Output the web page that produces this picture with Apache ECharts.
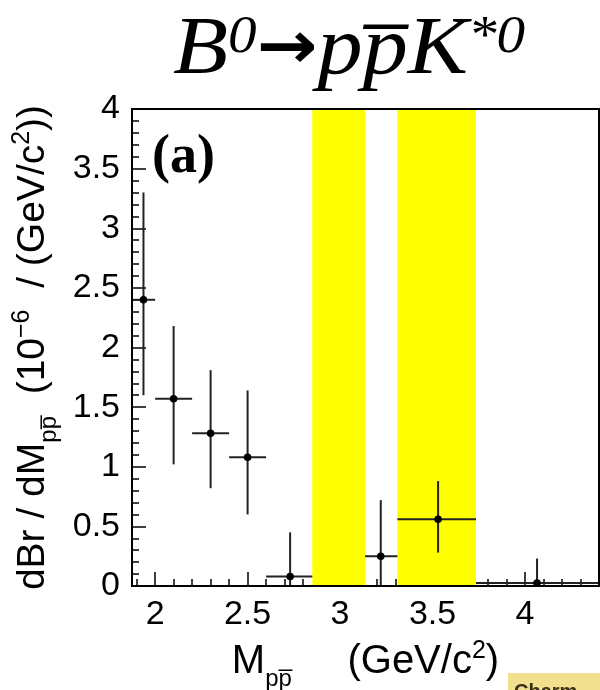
<!DOCTYPE html>
<html><head><meta charset="utf-8">
<script src="https://cdn.jsdelivr.net/npm/echarts@6/dist/echarts.min.js"></script>
<style>html,body{margin:0;padding:0;background:#fff}#c{width:600px;height:690px}</style>
</head><body><div id="c"></div>
<script>
// bins (GeV/c^2) and measured dBr/dM values (1e-6 per GeV/c^2)
const binLow   = [1.875, 2.0, 2.2, 2.4, 2.6, 3.135, 3.31, 3.735];
const binHigh  = [2.0, 2.2, 2.4, 2.6, 2.85, 3.31, 3.735, 4.4];
const xCenter  = [1.937, 2.10, 2.30, 2.50, 2.73, 3.22, 3.53, 4.065];
const yValue   = [2.40, 1.57, 1.28, 1.08, 0.08, 0.25, 0.56, 0.025];
const yErrLow  = [1.60, 1.02, 0.82, 0.60, -0.30, -0.20, 0.28, -0.20];
const yErrHigh = [3.30, 2.18, 1.81, 1.64, 0.45, 0.72, 0.88, 0.23];
// charmonium veto bands
const vetoLow  = [2.85, 3.31];
const vetoHigh = [3.135, 3.735];
// ticks
const xMajorTicks = [2, 2.5, 3, 3.5, 4];
const xMinorTicks = [1.9, 2.1, 2.2, 2.3, 2.4, 2.6, 2.7, 2.8, 2.9, 3.1, 3.2, 3.3, 3.4, 3.6, 3.7, 3.8, 3.9, 4.1, 4.2, 4.3];
const yMin = 0, yMax = 4, yStep = 0.5;
const xMin = 1.875, xMax = 4.4;

const chart = echarts.init(document.getElementById('c'), null, {renderer: 'canvas'});
const pointData = xCenter.map((x, i) => [x, yValue[i], binLow[i], binHigh[i], yErrLow[i], yErrHigh[i]]);
const bandData = vetoLow.map((lo, i) => [lo, vetoHigh[i]]);
const sans = 'Liberation Sans';
const serif = 'Liberation Serif';

const nameRich = {
  sub: {fontSize: 24, fontFamily: sans, color: '#000', verticalAlign: 'bottom', lineHeight: 50, padding: [0, 0, -4, 0]},
  sup: {fontSize: 25, fontFamily: sans, color: '#000', verticalAlign: 'top', lineHeight: 50, padding: [2, 0, 0, 0]}
};

chart.setOption({
  animation: false,
  backgroundColor: '#fff',
  grid: {left: 132, right: 1, top: 109, bottom: 104, show: true, borderColor: '#000', borderWidth: 2,
         backgroundColor: 'transparent', z: 5, containLabel: false, outerBoundsMode: 'none'},
  xAxis: [{
    type: 'value', min: xMin, max: xMax, position: 'bottom',
    axisLine: {show: false}, splitLine: {show: false},
    axisTick: {inside: true, length: 14, customValues: xMajorTicks, lineStyle: {color: '#000', width: 1.5}},
    axisLabel: {customValues: xMajorTicks, fontSize: 34, color: '#000', fontFamily: sans, margin: 12},
    name: 'M{sub|pp\u0305}     (GeV/c{sup|2})', nameLocation: 'middle', nameGap: 50,
    nameTextStyle: {fontSize: 40, color: '#000', fontFamily: sans, lineHeight: 50, rich: nameRich}
  }, {
    type: 'value', min: xMin, max: xMax, position: 'bottom',
    axisLine: {show: false}, splitLine: {show: false},
    axisTick: {inside: true, length: 7, customValues: xMinorTicks, lineStyle: {color: '#000', width: 1.5}},
    axisLabel: {show: false}
  }],
  yAxis: [{
    type: 'value', min: yMin, max: yMax, interval: yStep,
    axisLine: {show: false}, splitLine: {show: false},
    axisTick: {inside: true, length: 14, lineStyle: {color: '#000', width: 1.5}},
    minorTick: {show: true, splitNumber: 5, length: 7, lineStyle: {color: '#000', width: 1.5}},
    minorSplitLine: {show: false},
    axisLabel: {fontSize: 34, color: '#000', fontFamily: sans, margin: 12},
    name: 'dBr / dM{sub|pp\u0305}  (10{sup|\u22126}  / (GeV/c{sup|2}))', nameLocation: 'middle', nameRotate: 90, nameGap: 42,
    nameTextStyle: {fontSize: 39, color: '#000', fontFamily: sans, lineHeight: 50, rich: nameRich}
  }],
  series: [{
    type: 'custom', name: 'veto', xAxisIndex: 0, yAxisIndex: 0, z: 1, clip: true,
    data: bandData,
    encode: {x: [0, 1]},
    renderItem: function (params, api) {
      const p1 = api.coord([api.value(0), yMax]);
      const p2 = api.coord([api.value(1), yMin]);
      return {type: 'rect', shape: {x: p1[0], y: p1[1], width: p2[0] - p1[0], height: p2[1] - p1[1]},
              style: {fill: '#ffff00'}};
    }
  }, {
    type: 'custom', name: 'data', xAxisIndex: 0, yAxisIndex: 0, z: 3, clip: true,
    data: pointData,
    encode: {x: [0, 2, 3], y: [1, 4, 5]},
    renderItem: function (params, api) {
      const xc = api.value(0), y = api.value(1), xl = api.value(2), xh = api.value(3), yl = api.value(4), yh = api.value(5);
      const pL = api.coord([xl, y]), pR = api.coord([xh, y]);
      const pB = api.coord([xc, yl]), pT = api.coord([xc, yh]);
      const pC = api.coord([xc, y]);
      const st = {stroke: '#222', lineWidth: 2};
      return {type: 'group', children: [
        {type: 'line', shape: {x1: pL[0], y1: pL[1], x2: pR[0], y2: pR[1]}, style: st},
        {type: 'line', shape: {x1: pB[0], y1: pB[1], x2: pT[0], y2: pT[1]}, style: st},
        {type: 'circle', shape: {cx: pC[0], cy: pC[1], r: 3.8}, style: {fill: '#000'}}
      ]};
    }
  }],
  graphic: [
    {type: 'text', x: 173, y: 6, z: 10, scaleX: 1.1, scaleY: 1,
     style: {text: '{b|B}{s|0}{a|\u2192}{b|pp\u0305K}{s|*0}', fill: '#000',
       rich: {
         b: {fontSize: 82, fontFamily: serif, fontStyle: 'italic', fill: '#000', lineHeight: 90},
         s: {fontSize: 52, fontFamily: serif, fontStyle: 'italic', fill: '#000', verticalAlign: 'top', lineHeight: 90, padding: [6, 0, 0, 0]},
         a: {fontSize: 66, fontFamily: 'DejaVu Sans', fontWeight: 'bold', fill: '#000', lineHeight: 90}
       }}},
    {type: 'text', left: 152, top: 131, z: 10,
     style: {text: '(a)', fill: '#000', font: 'bold 54px "Liberation Serif"'}},
    {type: 'rect', left: 508, top: 673, z: 10, shape: {width: 92, height: 17}, style: {fill: '#f3e08e'}},
    {type: 'text', left: 514, top: 682, z: 11, style: {text: 'Charm', fill: '#3a301a', font: 'bold 20px "Liberation Sans"'}}
  ]
});
</script></body></html>
